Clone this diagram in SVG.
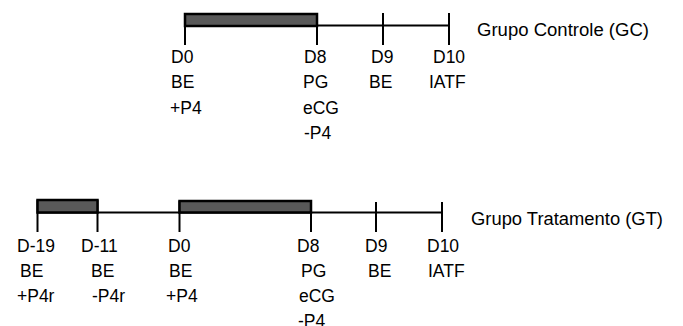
<svg xmlns="http://www.w3.org/2000/svg" width="683" height="326" viewBox="0 0 683 326">
<style>
.ln{stroke:#000;stroke-width:2;fill:none}
.bar{fill:#595959;stroke:#000;stroke-width:2.5}
.t{font-family:"Liberation Sans",Arial,sans-serif;font-size:17.5px;fill:#000}
</style>
<rect width="683" height="326" fill="#fff"/>
<g id="connectors">
<line class="ln" x1="185" y1="25.5" x2="449" y2="25.5"/>
<line class="ln" x1="185" y1="14" x2="185" y2="45"/>
<line class="ln" x1="317" y1="14" x2="317" y2="45"/>
<line class="ln" x1="383" y1="13" x2="383" y2="45"/>
<line class="ln" x1="449" y1="13" x2="449" y2="45"/>
<line class="ln" x1="37.5" y1="212.5" x2="442" y2="212.5"/>
<line class="ln" x1="37.5" y1="200" x2="37.5" y2="232"/>
<line class="ln" x1="97.5" y1="200" x2="97.5" y2="232"/>
<line class="ln" x1="179.5" y1="201" x2="179.5" y2="232"/>
<line class="ln" x1="311" y1="201" x2="311" y2="232"/>
<line class="ln" x1="376" y1="202" x2="376" y2="232"/>
<line class="ln" x1="442" y1="202" x2="442" y2="232"/>
</g>
<g id="bar-gc"><rect class="bar" x="185" y="14" width="132" height="12"/></g>
<g id="bar-gt1"><rect class="bar" x="37.5" y="200" width="60" height="12.5"/></g>
<g id="bar-gt2"><rect class="bar" x="179.5" y="201" width="131.5" height="11.5"/></g>
<g id="label-gc"><text class="t" x="477" y="36" textLength="172" lengthAdjust="spacingAndGlyphs">Grupo Controle (GC)</text></g>
<g id="label-gt"><text class="t" x="471" y="225" textLength="192" lengthAdjust="spacingAndGlyphs">Grupo Tratamento (GT)</text></g>
<g id="gc-d0"><text class="t" x="171" y="63">D0</text><text class="t" x="171" y="88">BE</text><text class="t" x="170" y="114">+P4</text></g>
<g id="gc-d8"><text class="t" x="304" y="63">D8</text><text class="t" x="303" y="88">PG</text><text class="t" x="303" y="114">eCG</text><text class="t" x="304" y="139">-P4</text></g>
<g id="gc-d9"><text class="t" x="371" y="63">D9</text><text class="t" x="369" y="88">BE</text></g>
<g id="gc-d10"><text class="t" x="433" y="63">D10</text><text class="t" x="429" y="88">IATF</text></g>
<g id="gt-d19"><text class="t" x="17" y="252">D-19</text><text class="t" x="20" y="277">BE</text><text class="t" x="17" y="302">+P4r</text></g>
<g id="gt-d11"><text class="t" x="81" y="252">D-11</text><text class="t" x="91" y="277">BE</text><text class="t" x="92" y="302">-P4r</text></g>
<g id="gt-d0"><text class="t" x="168" y="252">D0</text><text class="t" x="169" y="277">BE</text><text class="t" x="166" y="302">+P4</text></g>
<g id="gt-d8"><text class="t" x="297" y="252">D8</text><text class="t" x="301" y="277">PG</text><text class="t" x="299" y="302">eCG</text><text class="t" x="298" y="327">-P4</text></g>
<g id="gt-d9"><text class="t" x="365" y="252">D9</text><text class="t" x="368" y="277">BE</text></g>
<g id="gt-d10"><text class="t" x="427" y="252">D10</text><text class="t" x="428" y="277">IATF</text></g>
</svg>
